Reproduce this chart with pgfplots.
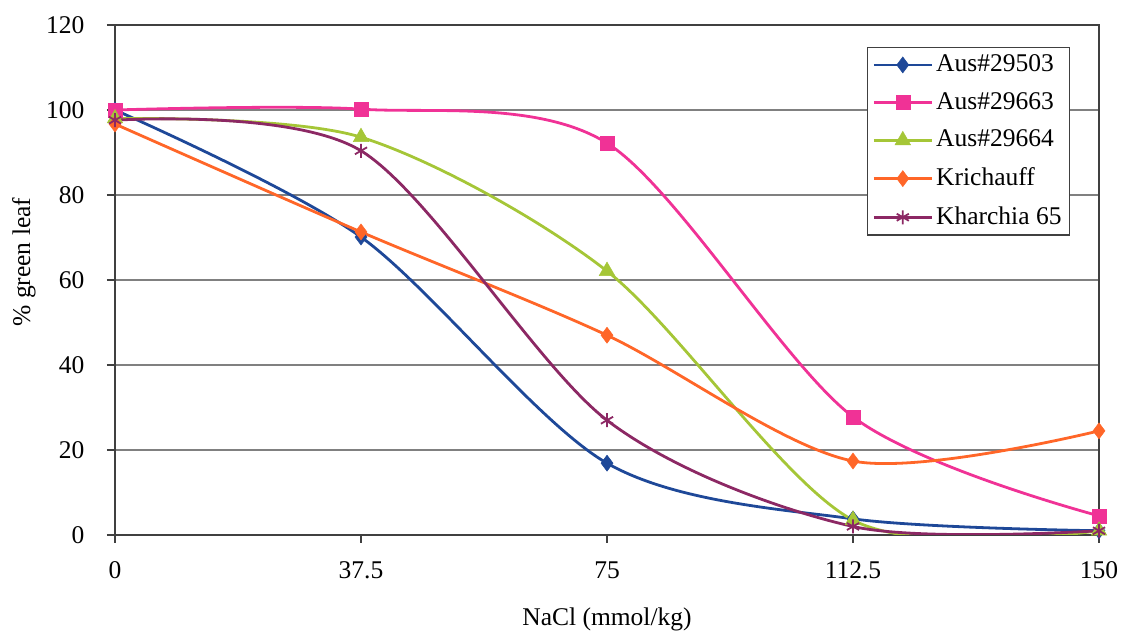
\documentclass[border=0pt]{standalone}
\usepackage{pgfplots}
\pgfplotsset{compat=1.18}
\usepackage{fontspec}
\setmainfont{Liberation Serif}

\definecolor{cblue}{RGB}{30,72,152}
\definecolor{cpink}{RGB}{240,50,150}
\definecolor{cgreen}{RGB}{165,198,55}
\definecolor{corange}{RGB}{255,102,40}
\definecolor{cpurple}{RGB}{140,40,100}

\begin{document}
\fontsize{25.5}{30}\selectfont
\begin{tikzpicture}
\useasboundingbox (0,0) rectangle (1136pt,634pt);
\begin{axis}[
  at={(115pt,99pt)}, anchor=south west,
  scale only axis, width=984pt, height=510pt,
  xmin=0, xmax=150, ymin=0, ymax=120,
  xtick={0,37.5,75,112.5,150},
  xticklabels={0,37.5,75,112.5,150},
  ytick={0,20,40,60,80,100,120},
  tick align=outside, xtick pos=left, ytick pos=left,
  major tick length=8pt,
  ymajorgrids,
  grid style={black!50, line width=1.4pt},
  axis line style={black!75, line width=1.6pt},
  tick style={black!75, line width=1.3pt},
  font=\fontsize{25.5}{30}\selectfont,
  /pgf/number format/assume math mode=true,
  xticklabel style={yshift=-10pt},
  yticklabel style={xshift=-14pt},
  xlabel={NaCl (mmol/kg)},
  ylabel={\% green leaf},
  xlabel style={at={(axis description cs:0.5,-0.165)}, anchor=center},
  ylabel style={at={(axis description cs:-0.0925,0.535)}, anchor=center},
  legend cell align=left,
  legend style={at={(0.764,0.957)}, anchor=north west,
    draw=black!75, inner xsep=5pt, inner ysep=5pt,
    font=\fontsize{25.5}{30}\selectfont, row sep=13pt,
    nodes={inner xsep=3pt}},
  every axis legend/.append style={line width=1.2pt},
  legend image code/.code={%
    \draw[line width=2.8pt, mark repeat=2, mark phase=2]
      plot coordinates {(0pt,0pt)(29pt,0pt)(58pt,0pt)};},
  every axis plot/.append style={line width=2.8pt, smooth, tension=0.5},
]
\addplot[cblue, mark=diamond*, mark size=8pt, mark options={solid, line width=0.5pt}]
  coordinates {(0,100) (37.5,70.1) (75,16.9) (112.5,3.8) (150,1.0)};
\addlegendentry{Aus\#29503}
\addplot[cpink, mark=square*, mark size=7pt, mark options={solid, line width=0.5pt}]
  coordinates {(0,100) (37.5,100.2) (75,92.2) (112.5,27.8) (150,4.5)};
\addlegendentry{Aus\#29663}
\addplot[cgreen, mark=triangle*, mark size=9pt, mark options={solid, line width=0.5pt}]
  coordinates {(0,98) (37.5,93.6) (75,62.1) (112.5,3.5) (150,1.0)};
\addlegendentry{Aus\#29664}
\addplot[corange, mark=diamond*, mark size=8pt, mark options={solid, line width=0.5pt}]
  coordinates {(0,96.7) (37.5,71.3) (75,47.0) (112.5,17.4) (150,24.5)};
\addlegendentry{Krichauff}
\addplot[cpurple, mark=asterisk, mark size=7pt, mark options={solid, line width=1.8pt}]
  coordinates {(0,97.6) (37.5,90.4) (75,27.0) (112.5,2.0) (150,1.0)};
\addlegendentry{Kharchia 65}
\end{axis}
\end{tikzpicture}
\end{document}
